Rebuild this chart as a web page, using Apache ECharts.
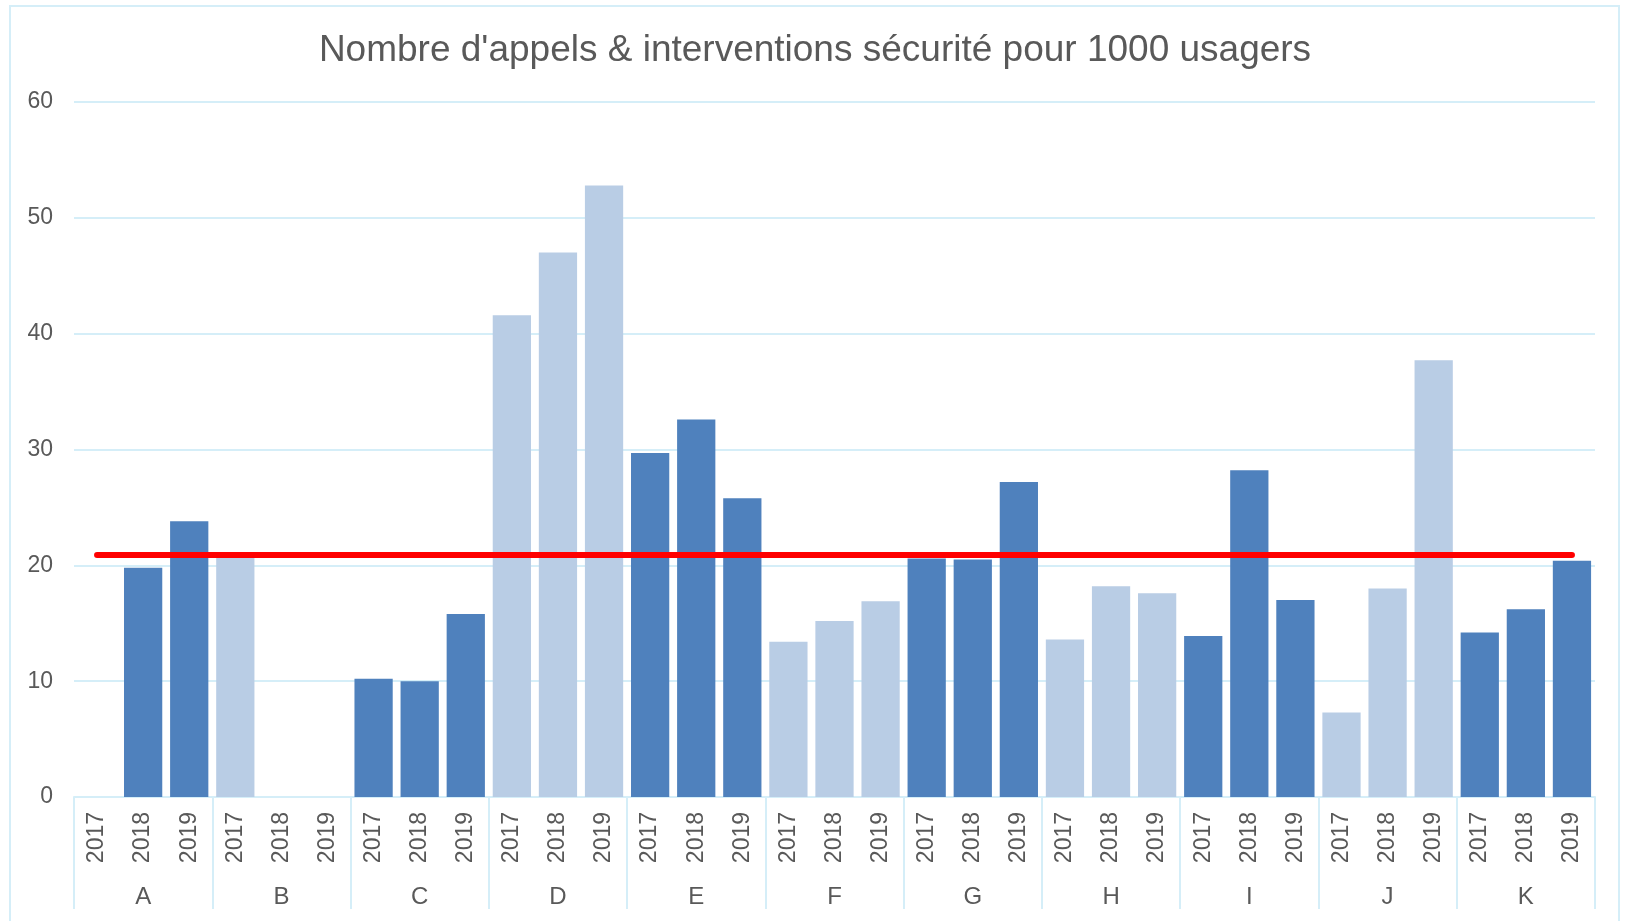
<!DOCTYPE html>
<html>
<head>
<meta charset="utf-8">
<script src="https://cdn.jsdelivr.net/npm/echarts@6/dist/echarts.min.js"></script>
<style>
  html, body { margin: 0; padding: 0; background: #fff; }
  #chart { width: 1630px; height: 921px; }
</style>
</head>
<body>
<div id="chart"></div>
<script>
// data
var groups = ["A", "B", "C", "D", "E", "F", "G", "H", "I", "J", "K"];
var years = ["2017", "2018", "2019"];
var values = [
  0, 19.8, 23.8,
  20.7, 0, 0,
  10.2, 10.0, 15.8,
  41.6, 47.0, 52.8,
  29.7, 32.6, 25.8,
  13.4, 15.2, 16.9,
  20.6, 20.5, 27.2,
  13.6, 18.2, 17.6,
  13.9, 28.2, 17.0,
  7.3, 18.0, 37.7,
  14.2, 16.2, 20.4
];
var averageValue = 20.9;
var yTicks = [0, 10, 20, 30, 40, 50, 60];

var yearLabels = [];
groups.forEach(function () {
  years.forEach(function (y) { yearLabels.push(y); });
});

var textColor = "#595959";
var lineColor = "#d5eef8";
var darkBlue = "#4f81bd";
var lightBlue = "#b9cde5";
var font = "Liberation Sans, Arial, sans-serif";

var chart = echarts.init(document.getElementById("chart"));
var option = {
  animation: false,
  textStyle: { fontFamily: font },
  title: {
    text: "Nombre d'appels & interventions sécurité pour 1000 usagers",
    left: "center",
    top: 27,
    textStyle: { color: textColor, fontSize: 37, fontWeight: "normal", fontFamily: font },
  },
  grid: { left: 74, right: 35, top: 102, bottom: 124, containLabel: false },
  graphic: [
    {
      type: "rect",
      shape: { x: 10, y: 6, width: 1609, height: 930 },
      style: { fill: "none", stroke: lineColor, lineWidth: 2 },
      silent: true,
    },
  ],
  xAxis: [
    {
      type: "category",
      data: yearLabels,
      position: "bottom",
      axisLine: { show: true, lineStyle: { color: lineColor, width: 2 } },
      axisTick: { show: false },
      axisLabel: { rotate: 90, margin: 15, color: textColor, fontSize: 23, interval: 0 },
    },
    {
      type: "category",
      data: groups,
      position: "bottom",
      axisLine: { show: false },
      axisTick: { show: true, length: 112, interval: 0, lineStyle: { color: lineColor, width: 2 } },
      axisLabel: { margin: 88, color: textColor, fontSize: 24, interval: 0 },
    },
  ],
  yAxis: {
    type: "value",
    min: yTicks[0],
    max: yTicks[yTicks.length - 1],
    interval: 10,
    axisLine: { show: false },
    axisTick: { show: false },
    axisLabel: { color: textColor, fontSize: 23, margin: 21 },
    splitLine: { lineStyle: { color: lineColor, width: 2 } },
  },
  series: [
    {
      type: "bar",
      xAxisIndex: 0,
      data: values,
      barCategoryGap: "17%",
      itemStyle: {
        color: function (p) {
          return Math.floor(p.dataIndex / 3) % 2 === 0 ? darkBlue : lightBlue;
        },
      },
      markLine: {
        silent: true,
        symbol: "none",
        label: { show: false },
        lineStyle: { color: "#ff0000", width: 6, type: "solid", cap: "round" },
        data: [[
          { coord: [0, averageValue] },
          { coord: [yearLabels.length - 1, averageValue] },
        ]],
      },
    },
  ],
};
chart.setOption(option);
</script>
</body>
</html>
